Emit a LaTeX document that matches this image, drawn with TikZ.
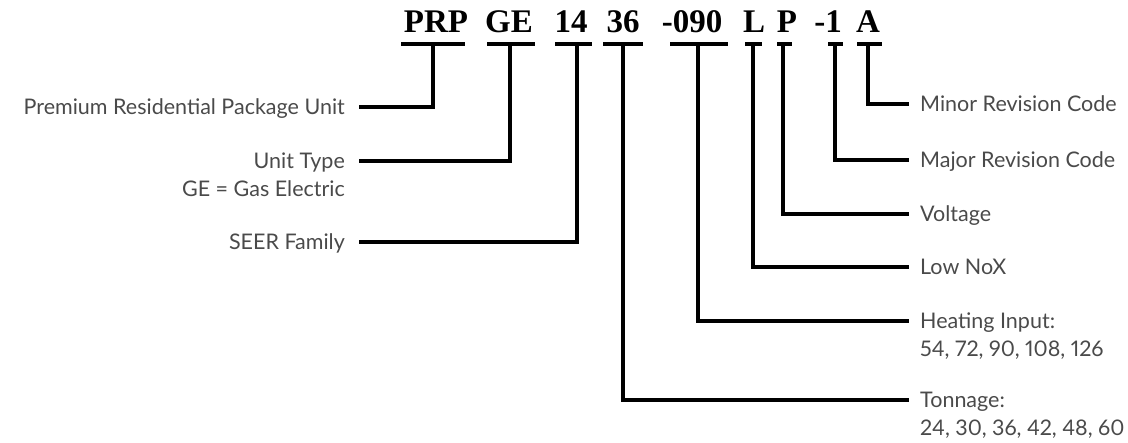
\documentclass[tikz,border=0pt]{standalone}
\usepackage{fontspec}
\setmainfont{Lato}[Numbers=Proportional]
\newfontfamily\codefont{Liberation Serif}
\definecolor{labelgray}{HTML}{4A4A4A}
\begin{document}
\begin{tikzpicture}[x=1pt,y=-1pt,
  codetext/.style={anchor=base, inner sep=0pt, font=\codefont\bfseries\fontsize{33}{36}\selectfont, text=black},
  lbl/.style={inner sep=0pt, text=labelgray, font=\fontsize{21.5}{28}\selectfont},
  lblR/.style={lbl, anchor=base west},
  lblL/.style={lbl, anchor=base east},
  bar/.style={line width=3.5pt, line cap=butt},
  conn/.style={line width=3.5pt, line join=miter, line cap=butt}]
\useasboundingbox (0,0) rectangle (1128,443);
% code segments
\node[codetext] (c1) at (436,33) {PRP};
\node[codetext] (c2) at (509,33) {GE};
\node[codetext] (c3) at (571,33) {14};
\node[codetext] (c4) at (623,33) {36};
\node[codetext] (c5) at (692,33) {-090};
\node[codetext] (c6) at (754,33) {L};
\node[codetext] (c7) at (787,33) {P};
\node[codetext] (c8) at (828,33) {-1};
\node[codetext] (c9) at (868,33) {A};
% underline bars
\draw[bar] (401,44) -- (465,44);
\draw[bar] (487,44) -- (535,44);
\draw[bar] (555,44) -- (592,44);
\draw[bar] (603,44) -- (643,44);
\draw[bar] (670,44) -- (728,44);
\draw[bar] (745,44) -- (762,44);
\draw[bar] (777,44) -- (792,44);
\draw[bar] (828,44) -- (843,44);
\draw[bar] (857,44) -- (882,44);
% stem tops
\coordinate (s1) at (433,44);
\coordinate (s2) at (510,44);
\coordinate (s3) at (577,44);
\coordinate (s4) at (623,44);
\coordinate (s5) at (698,44);
\coordinate (s6) at (753,44);
\coordinate (s7) at (783,44);
\coordinate (s8) at (835,44);
\coordinate (s9) at (868,44);
% connector ends
\coordinate (p1) at (359,107);
\coordinate (p2) at (359,161);
\coordinate (p3) at (359,242);
\coordinate (p4) at (909,400);
\coordinate (p5) at (909,321);
\coordinate (p6) at (909,267);
\coordinate (p7) at (909,214);
\coordinate (p8) at (909,160);
\coordinate (p9) at (909,104);
% labels
\node[lblL] (l1) at (345,115) {Premium Residential Package Unit};
\node[lblL] (l2) at (345,169) {\begin{tabular}[t]{@{}r@{}}Unit Type\\GE = Gas Electric\end{tabular}};
\node[lblL] (l3) at (345,250) {SEER Family};
\node[lblR] (l4) at (920,408) {\begin{tabular}[t]{@{}l@{}}Tonnage:\\24, 30, 36, 42, 48, 60\end{tabular}};
\node[lblR] (l5) at (920,329) {\begin{tabular}[t]{@{}l@{}}Heating Input:\\54, 72, 90, 108, 126\end{tabular}};
\node[lblR] (l6) at (920,275) {Low NoX};
\node[lblR] (l7) at (920,222) {Voltage};
\node[lblR] (l8) at (920,168) {Major Revision Code};
\node[lblR] (l9) at (920,112) {Minor Revision Code};
% connectors
\draw[conn] (s1) |- (p1);
\draw[conn] (s2) |- (p2);
\draw[conn] (s3) |- (p3);
\draw[conn] (s4) |- (p4);
\draw[conn] (s5) |- (p5);
\draw[conn] (s6) |- (p6);
\draw[conn] (s7) |- (p7);
\draw[conn] (s8) |- (p8);
\draw[conn] (s9) |- (p9);
\end{tikzpicture}
\end{document}
